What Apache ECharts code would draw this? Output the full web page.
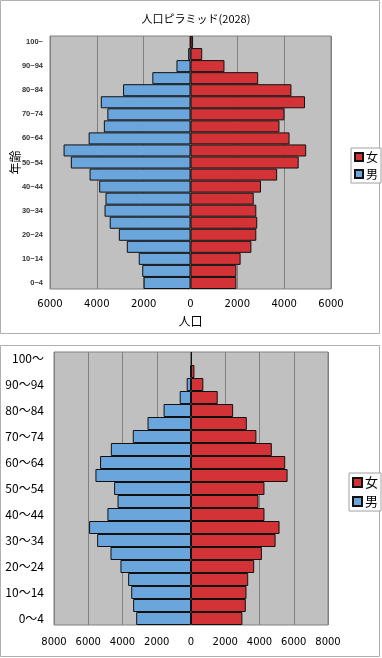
<!DOCTYPE html>
<html><head><meta charset="utf-8">
<script src="https://cdn.jsdelivr.net/npm/echarts@6/dist/echarts.min.js"></script>
<style>html,body{margin:0;padding:0;background:#fff}#c{width:382px;height:658px}</style>
</head><body><div id="c"></div>
<script>
// Categories (bottom to top)
var agesTop = ['0~4','5~9','10~14','15~19','20~24','25~29','30~34','35~39','40~44','45~49','50~54','55~59','60~64','65~69','70~74','75~79','80~84','85~89','90~94','95~99','100~'];
var agesBottom = ['0～4','5～9','10～14','15～19','20～24','25～29','30～34','35～39','40～44','45～49','50～54','55～59','60～64','65～69','70～74','75～79','80～84','85～89','90～94','95～99','100～'];
// Top chart (2028)
var maleTop =   [2000,2060,2210,2720,3060,3450,3670,3630,3900,4310,5110,5420,4350,3700,3550,3830,2880,1630,600,100,20];
var femaleTop = [1960,1960,2140,2600,2810,2850,2810,2700,3010,3700,4620,4940,4230,3800,4010,4890,4310,2890,1450,500,110];
// Bottom chart
var maleBottom =   [3200,3380,3490,3670,4120,4700,5480,5950,4880,4290,4490,5580,5310,4680,3400,2540,1600,660,250,40,0];
var femaleBottom = [3000,3200,3240,3340,3690,4140,4940,5170,4290,3940,4290,5640,5500,4720,3820,3260,2460,1560,720,200,30];
var xTicksTop = [-6000,-4000,-2000,0,2000,4000,6000];
var xTicksBottom = [-8000,-6000,-4000,-2000,0,2000,4000,6000,8000];

var RED = '#d33236', BLUE = '#6aa5dc';
var FONT = '"Noto Sans CJK JP", "DejaVu Sans", sans-serif';
function neg(a){return a.map(function(v){return -v;});}

var chart = echarts.init(document.getElementById('c'));
chart.setOption({
  animation:false,
  textStyle:{fontFamily:FONT},
  title:{text:'人口ピラミッド(2028)', left:191, textAlign:'center', top:8,
    textStyle:{fontSize:11, fontWeight:'normal', color:'#000', fontFamily:FONT}},
  graphic:[
    {type:'rect', shape:{x:0.5,y:0.5,width:379,height:333}, style:{fill:'none',stroke:'#b0b0b0',lineWidth:1}, z:-10},
    {type:'rect', shape:{x:0.5,y:345.5,width:379,height:311}, style:{fill:'none',stroke:'#b0b0b0',lineWidth:1}, z:-10}
  ],
  legend:[
    {data:['女','男'], orient:'vertical', left:351, top:148, itemWidth:8, itemHeight:8, itemGap:5,
     padding:[3,3,3,3], borderColor:'#a0a0a0', borderWidth:1, backgroundColor:'#fff', icon:'rect',
     textStyle:{fontSize:12, color:'#000', padding:[0,0,0,-2]}},
    {data:['女','男'], orient:'vertical', left:349, top:473, itemWidth:9, itemHeight:9, itemGap:6,
     padding:[3,3,3,3], borderColor:'#a0a0a0', borderWidth:1, backgroundColor:'#fff', icon:'rect',
     textStyle:{fontSize:13, color:'#000', padding:[0,0,0,-2]}}
  ],
  grid:[
    {left:50, width:281, top:36, height:253, show:true, backgroundColor:'#c0c0c0', borderColor:'#808080', borderWidth:1, containLabel:false, outerBoundsMode:'none'},
    {left:54, width:274, top:352, height:273, show:true, backgroundColor:'#c0c0c0', borderColor:'#808080', borderWidth:1, containLabel:false, outerBoundsMode:'none'}
  ],
  xAxis:[
    {type:'value', gridIndex:0, min:xTicksTop[0], max:xTicksTop[xTicksTop.length-1], interval:2000,
     axisLine:{show:false}, axisTick:{show:false},
     splitLine:{show:true, lineStyle:{color:'#808080', width:1}},
     axisLabel:{formatter:function(v){return String(Math.abs(v));}, fontSize:10, color:'#000', margin:10, fontFamily:'"DejaVu Sans", sans-serif'},
     name:'人口', nameLocation:'middle', nameGap:26, nameMoveOverlap:false, nameTextStyle:{fontSize:12, color:'#000'}},
    {type:'value', gridIndex:1, min:xTicksBottom[0], max:xTicksBottom[xTicksBottom.length-1], interval:2000,
     axisLine:{show:false}, axisTick:{show:false},
     splitLine:{show:true, lineStyle:{color:'#808080', width:1}},
     axisLabel:{formatter:function(v){return String(Math.abs(v));}, fontSize:10, color:'#000', margin:12, fontFamily:'"DejaVu Sans", sans-serif'}}
  ],
  yAxis:[
    {type:'category', gridIndex:0, data:agesTop, axisLine:{show:false}, axisTick:{show:false},
     axisLabel:{interval:1, fontSize:7.5, fontWeight:'bold', color:'#333', margin:7, fontFamily:'"Liberation Sans", sans-serif'},
     name:'年齢', nameLocation:'middle', nameGap:29, nameMoveOverlap:false, nameRotate:90, nameTextStyle:{fontSize:12, color:'#000'}},
    {type:'category', gridIndex:1, data:agesBottom, axisLine:{show:false}, axisTick:{show:false},
     axisLabel:{interval:1, fontSize:12, color:'#000', margin:10, fontFamily:FONT}}
  ],
  series:[
    {name:'女', type:'bar', xAxisIndex:0, yAxisIndex:0, stack:'t', data:femaleTop, barCategoryGap:'0%',
     itemStyle:{color:RED, borderColor:'#111', borderWidth:1}},
    {name:'男', type:'bar', xAxisIndex:0, yAxisIndex:0, stack:'t', data:neg(maleTop), barCategoryGap:'0%',
     itemStyle:{color:BLUE, borderColor:'#111', borderWidth:1}},
    {name:'女', type:'bar', xAxisIndex:1, yAxisIndex:1, stack:'b', data:femaleBottom, barCategoryGap:'0%',
     itemStyle:{color:RED, borderColor:'#111', borderWidth:1}},
    {name:'男', type:'bar', xAxisIndex:1, yAxisIndex:1, stack:'b', data:neg(maleBottom), barCategoryGap:'0%',
     itemStyle:{color:BLUE, borderColor:'#111', borderWidth:1}}
  ]
});
</script></body></html>
